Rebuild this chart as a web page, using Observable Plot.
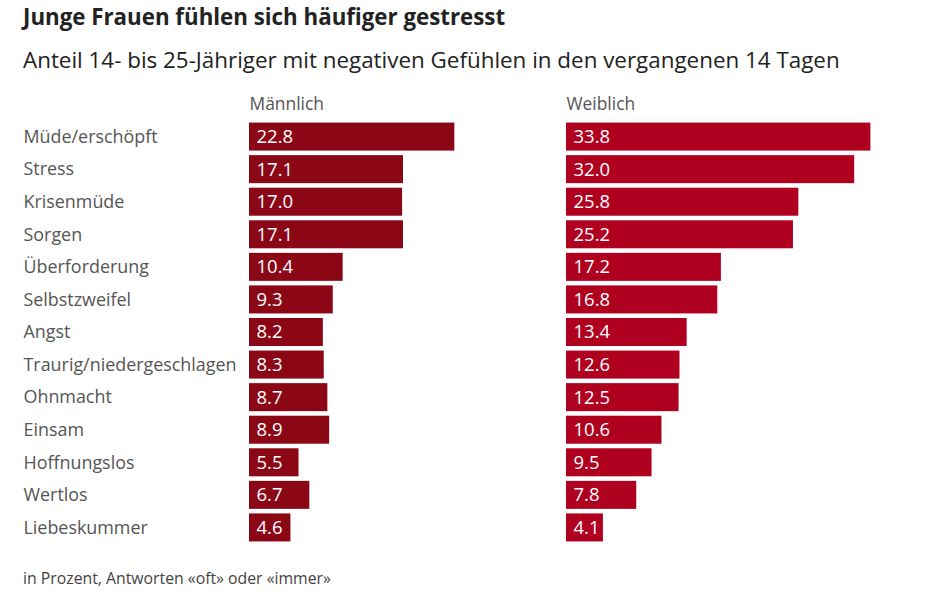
<!DOCTYPE html>
<html>
<head>
<meta charset="utf-8">
<script src="https://cdn.jsdelivr.net/npm/d3@7"></script>
<script src="https://cdn.jsdelivr.net/npm/@observablehq/plot@0.6"></script>
<style>
  body { margin: 0; background: #fff; font-family: "Open Sans", sans-serif; }
  .title { padding-left: 23px; height: 34px; line-height: 34px; font-size: 22.3px; font-weight: 700; color: #222; white-space: nowrap; }
  .sub { padding-left: 23px; height: 52px; line-height: 52px; font-size: 22.4px; color: #222; white-space: nowrap; }
  .cap { padding-left: 23px; height: 44px; line-height: 44px; font-size: 15.8px; color: #444; white-space: nowrap; }
  #chart svg { display: block; }
</style>
</head>
<body>
<div class="title">Junge Frauen fühlen sich häufiger gestresst</div>
<div class="sub">Anteil 14- bis 25-Jähriger mit negativen Gefühlen in den vergangenen 14 Tagen</div>
<div id="chart"></div>
<div class="cap">in Prozent, Antworten «oft» oder «immer»</div>
<script>
const categories = ["Müde/erschöpft", "Stress", "Krisenmüde", "Sorgen", "Überforderung", "Selbstzweifel", "Angst", "Traurig/niedergeschlagen", "Ohnmacht", "Einsam", "Hoffnungslos", "Wertlos", "Liebeskummer"];
const genders = ["Männlich", "Weiblich"];
const maleValues = [22.8, 17.1, 17.0, 17.1, 10.4, 9.3, 8.2, 8.3, 8.7, 8.9, 5.5, 6.7, 4.6];
const femaleValues = [33.8, 32.0, 25.8, 25.2, 17.2, 16.8, 13.4, 12.6, 12.5, 10.6, 9.5, 7.8, 4.1];
const colors = ["#8b0716", "#b0001f"];

const data = [];
categories.forEach((c, i) => {
  data.push({category: c, gender: genders[0], value: maleValues[i]});
  data.push({category: c, gender: genders[1], value: femaleValues[i]});
});
const fmt = d3.format(".1f");

const chart = Plot.plot({
  width: 927,
  height: 470,
  marginLeft: 249,
  marginRight: 44,
  marginTop: 32,
  marginBottom: 10,
  style: {fontFamily: "Open Sans, sans-serif", background: "#fff"},
  fx: {domain: genders, padding: 0, axis: null, round: false},
  x: {domain: [0, 35.2], axis: null},
  y: {domain: categories, paddingInner: 0.14, paddingOuter: 0.14, axis: null, round: false},
  color: {domain: genders, range: colors},
  marks: [
    Plot.barX(data, {fx: "gender", y: "category", x: "value", fill: "gender"}),
    Plot.text(data, {fx: "gender", y: "category", x: 0, text: d => fmt(d.value), textAnchor: "start", dx: 7, fill: "white", fontSize: 18.5}),
    Plot.axisY({tickSize: 0, tickPadding: 0, textAnchor: "start", dx: -226, fontSize: 17.9, color: "#555", label: null}),
    Plot.text(genders, {fx: d => d, text: d => d, frameAnchor: "top-left", lineAnchor: "middle", dy: -14, fontSize: 17.4, fill: "#555"})
  ]
});
document.getElementById("chart").appendChild(chart);
</script>
</body>
</html>
